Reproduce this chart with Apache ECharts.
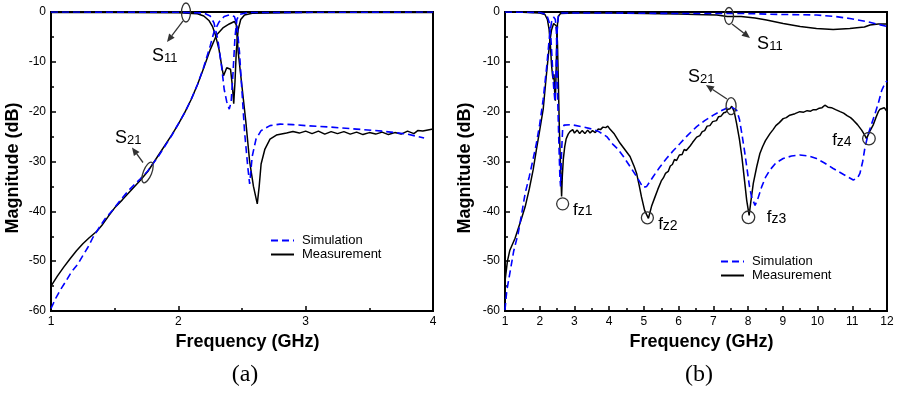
<!DOCTYPE html>
<html><head><meta charset="utf-8">
<script src="https://cdn.jsdelivr.net/npm/echarts@6/dist/echarts.min.js"></script>
<style>html,body{margin:0;padding:0;background:#fff}#c{width:899px;height:393px}</style>
</head><body><div id="c"></div>
<script>
// ---------- DATA (frequency GHz, magnitude dB) ----------
// Panel (a)
const aMeasS21 = [[1.00,-55.0],[1.05,-53.0],[1.10,-51.2],[1.15,-49.5],[1.20,-47.9],[1.25,-46.5],[1.30,-45.3],[1.36,-44.0],[1.40,-42.8],[1.45,-41.0],[1.50,-39.3],[1.56,-37.7],[1.62,-36.0],[1.70,-33.8],[1.76,-32.0],[1.85,-28.5],[1.95,-24.6],[2.00,-22.5],[2.05,-20.2],[2.10,-17.6],[2.15,-14.6],[2.20,-11.2],[2.25,-7.6],[2.30,-4.6],[2.35,-3.2],[2.40,-2.4],[2.44,-1.9],[2.455,-2.6],[2.47,-8.0],[2.50,-15.0],[2.53,-22.0],[2.56,-30.0],[2.59,-35.0],[2.62,-38.5],[2.635,-35.0],[2.65,-30.5],[2.68,-27.5],[2.72,-25.5],[2.77,-24.7],[2.85,-24.3],[2.90,-24.0],[2.95,-24.3],[3.00,-23.9],[3.05,-24.4],[3.10,-23.9],[3.15,-24.5],[3.20,-24.0],[3.25,-24.4],[3.30,-24.0],[3.35,-24.5],[3.40,-24.1],[3.45,-24.6],[3.50,-24.2],[3.55,-24.5],[3.60,-24.1],[3.65,-24.6],[3.70,-24.2],[3.75,-24.5],[3.80,-23.9],[3.85,-24.4],[3.88,-23.8],[3.92,-23.9],[3.96,-23.7],[4.00,-23.5]];
const aSimS21 = [[1.00,-59.5],[1.04,-57.3],[1.08,-55.5],[1.12,-53.9],[1.16,-52.2],[1.21,-50.6],[1.25,-48.9],[1.29,-47.2],[1.33,-45.2],[1.38,-43.2],[1.43,-41.3],[1.49,-39.6],[1.55,-37.6],[1.61,-35.8],[1.70,-33.5],[1.76,-31.9],[1.85,-28.7],[1.95,-24.7],[2.05,-20.2],[2.10,-17.6],[2.15,-14.6],[2.20,-11.0],[2.25,-6.8],[2.28,-4.0],[2.32,-2.0],[2.36,-0.9],[2.40,-0.6],[2.44,-0.9],[2.46,-2.5],[2.48,-8.0],[2.50,-16.0],[2.52,-24.0],[2.545,-31.0],[2.56,-34.5],[2.58,-29.0],[2.61,-25.5],[2.65,-23.8],[2.72,-22.8],[2.80,-22.5],[2.90,-22.6],[3.00,-22.8],[3.20,-23.1],[3.40,-23.5],[3.60,-23.9],[3.80,-24.5],[3.93,-25.3]];
const aMeasS11 = [[1.00,-0.1],[1.50,-0.1],[2.00,-0.15],[2.15,-0.35],[2.20,-0.8],[2.24,-1.7],[2.27,-3.0],[2.29,-4.5],[2.32,-7.6],[2.345,-11.5],[2.355,-12.8],[2.37,-12.4],[2.38,-11.2],[2.395,-10.8],[2.41,-11.5],[2.425,-15.0],[2.435,-18.4],[2.445,-14.0],[2.455,-8.0],[2.47,-3.5],[2.49,-1.5],[2.52,-0.6],[2.58,-0.25],[3.00,-0.1],[4.00,-0.1]];
const aSimS11 = [[1.00,0],[2.00,-0.05],[2.20,-0.2],[2.25,-0.8],[2.28,-2.2],[2.31,-5.5],[2.34,-11.0],[2.36,-15.5],[2.38,-18.0],[2.40,-19.5],[2.415,-18.0],[2.43,-12.0],[2.445,-5.0],[2.46,-1.5],[2.48,-0.5],[2.55,-0.1],[4.00,0]];
// Panel (b)
const bMeasS21 = [[1.00,-54.0],[1.07,-50.0],[1.14,-47.8],[1.29,-45.4],[1.45,-42.0],[1.58,-39.1],[1.70,-35.5],[1.81,-31.7],[1.90,-27.8],[2.00,-23.7],[2.10,-19.5],[2.18,-13.5],[2.25,-8.6],[2.30,-5.5],[2.34,-3.6],[2.40,-2.3],[2.44,-1.9],[2.48,-2.8],[2.51,-6.0],[2.54,-15.0],[2.56,-22.0],[2.58,-27.0],[2.61,-33.0],[2.63,-37.0],[2.65,-33.0],[2.68,-29.5],[2.72,-27.0],[2.76,-25.5],[2.82,-24.5],[2.87,-24.0],[2.95,-23.6],[3.00,-24.3],[3.08,-23.7],[3.15,-24.4],[3.22,-23.8],[3.30,-24.4],[3.38,-23.7],[3.45,-24.3],[3.52,-23.8],[3.60,-24.2],[3.68,-23.5],[3.75,-23.6],[3.82,-23.1],[3.90,-23.2],[3.96,-22.9],[4.02,-23.5],[4.15,-24.5],[4.31,-26.3],[4.45,-27.6],[4.60,-29.0],[4.72,-31.0],[4.79,-32.4],[4.87,-35.0],[4.93,-37.1],[5.02,-39.8],[5.13,-41.4],[5.22,-39.0],[5.32,-37.1],[5.40,-35.6],[5.45,-35.2],[5.50,-33.9],[5.56,-33.3],[5.62,-32.4],[5.70,-32.0],[5.76,-30.9],[5.82,-30.6],[5.88,-29.6],[5.94,-29.8],[6.02,-28.7],[6.10,-28.6],[6.16,-27.6],[6.22,-27.8],[6.33,-26.9],[6.40,-26.2],[6.45,-26.0],[6.52,-25.1],[6.61,-24.8],[6.68,-24.0],[6.75,-23.8],[6.82,-22.9],[6.90,-22.8],[6.98,-22.0],[7.09,-21.8],[7.15,-21.0],[7.22,-20.9],[7.30,-20.2],[7.36,-20.1],[7.42,-19.5],[7.48,-19.4],[7.53,-18.9],[7.60,-20.0],[7.67,-22.4],[7.75,-25.5],[7.82,-29.0],[7.90,-34.0],[7.96,-37.8],[8.03,-40.8],[8.08,-38.0],[8.15,-34.4],[8.25,-31.0],[8.34,-28.4],[8.42,-27.0],[8.50,-25.8],[8.63,-24.4],[8.72,-23.6],[8.80,-22.8],[8.90,-22.2],[9.01,-21.4],[9.10,-21.2],[9.20,-20.7],[9.35,-20.4],[9.49,-20.0],[9.60,-20.1],[9.70,-19.8],[9.80,-19.9],[9.88,-19.6],[9.97,-19.6],[10.05,-19.3],[10.13,-19.2],[10.21,-18.7],[10.30,-19.1],[10.40,-19.2],[10.52,-19.6],[10.65,-20.0],[10.75,-20.3],[10.85,-20.8],[10.95,-21.2],[11.03,-21.7],[11.15,-22.6],[11.27,-23.7],[11.35,-24.6],[11.41,-25.4],[11.50,-24.0],[11.60,-22.7],[11.68,-21.2],[11.75,-20.0],[11.80,-19.5],[11.85,-19.8],[11.92,-19.2],[12.00,-20.0]];
const bSimS21 = [[1.00,-59.8],[1.05,-56.0],[1.14,-52.4],[1.25,-48.0],[1.38,-44.4],[1.48,-40.5],[1.58,-36.4],[1.70,-33.0],[1.81,-29.5],[1.90,-26.5],[2.00,-22.5],[2.10,-17.5],[2.20,-11.0],[2.28,-5.0],[2.34,-2.0],[2.40,-1.0],[2.45,-1.5],[2.48,-4.0],[2.50,-10.0],[2.52,-18.0],[2.55,-26.0],[2.58,-33.0],[2.60,-35.0],[2.63,-28.0],[2.66,-23.5],[2.70,-22.7],[2.90,-22.6],[3.20,-23.0],[3.45,-23.4],[3.70,-24.0],[3.93,-25.0],[4.10,-26.5],[4.25,-27.5],[4.41,-29.0],[4.60,-31.0],[4.79,-33.0],[4.93,-34.7],[4.98,-35.2],[5.08,-35.0],[5.27,-33.0],[5.45,-31.2],[5.65,-29.4],[5.85,-27.8],[6.04,-26.4],[6.25,-24.8],[6.52,-23.0],[6.75,-21.8],[7.00,-20.7],[7.20,-19.9],[7.38,-19.3],[7.55,-19.2],[7.67,-19.7],[7.75,-21.5],[7.82,-24.4],[7.90,-28.0],[7.96,-31.0],[8.04,-35.0],[8.10,-37.1],[8.20,-38.8],[8.28,-37.5],[8.39,-35.1],[8.50,-33.2],[8.63,-31.7],[8.80,-30.3],[9.01,-29.4],[9.25,-28.9],[9.49,-28.7],[9.75,-28.9],[9.97,-29.4],[10.20,-30.3],[10.45,-31.4],[10.75,-32.6],[11.03,-33.7],[11.15,-33.3],[11.22,-32.4],[11.30,-30.0],[11.37,-27.0],[11.46,-24.5],[11.56,-22.4],[11.66,-20.3],[11.75,-18.3],[11.85,-15.7],[11.93,-14.5],[12.00,-13.8]];
const bMeasS11 = [[1.00,0],[1.50,-0.05],[2.00,-0.2],[2.15,-0.5],[2.22,-1.5],[2.27,-3.5],[2.31,-7.0],[2.34,-10.6],[2.37,-12.8],[2.39,-13.5],[2.41,-12.5],[2.43,-16.0],[2.45,-17.8],[2.47,-12.5],[2.49,-6.0],[2.51,-2.5],[2.54,-0.8],[2.60,-0.3],[3.00,-0.2],[4.00,-0.2],[5.00,-0.3],[6.00,-0.4],[6.50,-0.5],[7.10,-0.6],[7.40,-0.9],[7.80,-0.9],[8.20,-1.2],[8.53,-1.6],[9.01,-2.3],[9.50,-2.9],[9.97,-3.3],[10.45,-3.5],[10.93,-3.3],[11.20,-3.1],[11.35,-3.0],[11.51,-2.6],[11.75,-2.4],[12.00,-2.4]];
const bSimS11 = [[1.00,0],[2.00,-0.1],[2.20,-0.5],[2.27,-2.0],[2.32,-5.0],[2.36,-10.0],[2.40,-15.0],[2.44,-18.0],[2.47,-12.0],[2.50,-4.0],[2.53,-1.0],[2.60,-0.2],[4.00,-0.2],[6.00,-0.3],[7.86,-0.3],[9.00,-0.5],[9.97,-0.6],[10.50,-0.9],[10.93,-1.3],[11.41,-1.9],[11.70,-2.4],[12.00,-2.9]];

const xRanges = [[1, 4], [1, 12]];
const yRange = [-60, 0];
const seriesNames = ['Simulation', 'Measurement'];
const panelLabels = ['(a)', '(b)'];
const xTitle = 'Frequency (GHz)';
const yTitle = 'Magnitude (dB)';

// annotations (data coordinates)
const annEllipses = [
  {g:0, at:[2.06,-0.1], rx:4.5, ry:9.5, rot:0},
  {g:0, at:[1.758,-32.2], rx:4.2, ry:11, rot:-0.38},
  {g:1, at:[7.45,-0.8], rx:4.5, ry:8.5, rot:0},
  {g:1, at:[7.51,-18.9], rx:5, ry:8.5, rot:0},
  {g:1, at:[2.66,-38.5], rx:6, ry:6, rot:0},
  {g:1, at:[5.10,-41.3], rx:6, ry:6, rot:0},
  {g:1, at:[8.01,-41.2], rx:6.3, ry:6.3, rot:0},
  {g:1, at:[11.48,-25.4], rx:6.3, ry:6.3, rot:0}
];
const annArrows = [
  {g:0, from:[2.037,-1.8], to:[1.911,-6.0]},
  {g:0, from:[1.7225,-30.2], to:[1.636,-27.2]},
  {g:1, from:[7.536,-2.41], to:[8.054,-5.22]},
  {g:1, from:[7.392,-17.47], to:[6.787,-14.66]}
];
const annTexts = [
  {g:0, at:[1.793,-10.1], main:'S', sub:'11', big:18, small:13},
  {g:0, at:[1.503,-26.4], main:'S', sub:'21', big:18, small:13},
  {g:1, at:[8.26,-7.6], main:'S', sub:'11', big:18, small:13},
  {g:1, at:[6.27,-14.3], main:'S', sub:'21', big:18, small:13},
  {g:1, at:[2.96,-40.8], main:'f', sub:'z1', big:17, small:14},
  {g:1, at:[5.41,-43.8], main:'f', sub:'z2', big:17, small:14},
  {g:1, at:[8.54,-42.4], main:'f', sub:'z3', big:17, small:14},
  {g:1, at:[10.42,-26.9], main:'f', sub:'z4', big:17, small:14}
];

// ---------- CHART ----------
const FONT = "'Liberation Sans', Arial, sans-serif";
const chart = echarts.init(document.getElementById('c'), null, {renderer:'canvas', width:899, height:393});

const grids = [
  {left:51, top:12, width:382, height:299, show:true, borderColor:'#000', borderWidth:2, backgroundColor:'transparent'},
  {left:505, top:12, width:382, height:299, show:true, borderColor:'#000', borderWidth:2, backgroundColor:'transparent'}
];
const yNameGap = [29, 31];
function xAx(i){
  return {type:'value', gridIndex:i, min:xRanges[i][0], max:xRanges[i][1], interval:1,
    name:xTitle, nameLocation:'middle', nameGap:20,
    nameTextStyle:{fontFamily:FONT, fontWeight:'bold', fontSize:18, color:'#000', padding:[0,0,0,11]},
    axisLine:{show:true, onZero:false, lineStyle:{color:'#000', width:2}},
    axisTick:{show:true, inside:true, length:5, lineStyle:{color:'#000', width:1.5}},
    minorTick:{show:true, splitNumber:2, length:3, lineStyle:{color:'#000', width:1.5}},
    splitLine:{show:false},
    axisLabel:{margin:5, color:'#000', fontSize:12, fontFamily:FONT}};
}
function yAx(i){
  return {type:'value', gridIndex:i, min:yRange[0], max:yRange[1], interval:10,
    name:yTitle, nameLocation:'middle', nameGap:yNameGap[i], nameRotate:90,
    nameTextStyle:{fontFamily:FONT, fontWeight:'bold', fontSize:18, color:'#000', padding:[0,13,0,0]},
    axisLine:{show:true, onZero:false, lineStyle:{color:'#000', width:2}},
    axisTick:{show:true, inside:true, length:5, lineStyle:{color:'#000', width:1.5}},
    minorTick:{show:true, splitNumber:2, length:3, lineStyle:{color:'#000', width:1.5}},
    splitLine:{show:false},
    axisLabel:{margin:5, color:'#000', fontSize:12, fontFamily:FONT}};
}
function meas(i, data){
  return {type:'line', name:seriesNames[1], xAxisIndex:i, yAxisIndex:i, data:data, symbol:'none',
    showSymbol:false, lineStyle:{color:'#000', width:1.5}, itemStyle:{color:'#000'}, z:2, animation:false};
}
function sim(i, data){
  return {type:'line', name:seriesNames[0], xAxisIndex:i, yAxisIndex:i, data:data, symbol:'none',
    showSymbol:false, lineStyle:{color:'#0000ff', width:1.6, type:[7,4]}, itemStyle:{color:'#0000ff'}, z:3, animation:false};
}
function legend(left, top){
  return {orient:'vertical', left:left, top:top, itemWidth:23, itemHeight:14, itemGap:1,
    selectedMode:false, data:seriesNames, itemStyle:{opacity:0},
    textStyle:{fontFamily:FONT, fontSize:13, color:'#000', padding:[0,0,0,3]}};
}

chart.setOption({
  animation:false,
  backgroundColor:'#fff',
  grid:grids,
  xAxis:[xAx(0), xAx(1)],
  yAxis:[yAx(0), yAx(1)],
  legend:[legend(265, 229), legend(715, 250)],
  series:[meas(0,aMeasS21), meas(0,aMeasS11), sim(0,aSimS21), sim(0,aSimS11),
          meas(1,bMeasS21), meas(1,bMeasS11), sim(1,bSimS21), sim(1,bSimS11)]
});

// ---------- annotations positioned through the axes ----------
function px(g, p){ return chart.convertToPixel({gridIndex:g}, p); }
const gfx = [];
const ANN = '#333';
annEllipses.forEach(e => {
  const c = px(e.g, e.at);
  gfx.push({type:'ellipse', x:c[0], y:c[1], rotation:e.rot, shape:{cx:0, cy:0, rx:e.rx, ry:e.ry},
    style:{fill:'none', stroke:ANN, lineWidth:1.3}, z:10});
});
annArrows.forEach(a => {
  const s = px(a.g, a.from), t = px(a.g, a.to);
  const ang = Math.atan2(t[1]-s[1], t[0]-s[0]);
  const L = 8, W = 3.5;
  const bx = t[0] - L*Math.cos(ang), by = t[1] - L*Math.sin(ang);
  gfx.push({type:'line', shape:{x1:s[0], y1:s[1], x2:bx, y2:by}, style:{stroke:ANN, lineWidth:1.3}, z:10});
  gfx.push({type:'polygon', shape:{points:[[t[0],t[1]],[bx - W*Math.sin(ang), by + W*Math.cos(ang)],[bx + W*Math.sin(ang), by - W*Math.cos(ang)]]},
    style:{fill:ANN}, z:10});
});
annTexts.forEach(t => {
  const c = px(t.g, t.at);
  gfx.push({type:'text', x:c[0], y:c[1]+3, z:10,
    style:{text:'{a|'+t.main+'}{b|'+t.sub+'}', align:'left', verticalAlign:'bottom',
      rich:{a:{fontSize:t.big, fontFamily:FONT, fill:'#000', verticalAlign:'bottom'},
            b:{fontSize:t.small, fontFamily:FONT, fill:'#000', verticalAlign:'bottom'}}}});
});
// panel labels under each grid
[0,1].forEach(i => {
  const c = px(i, [(xRanges[i][0]+xRanges[i][1])/2, yRange[0]]);
  gfx.push({type:'text', x:c[0]+3, y:375, style:{text:panelLabels[i], align:'center', verticalAlign:'middle',
    fontFamily:"'Liberation Serif', 'Times New Roman', serif", fontSize:24, fill:'#000'}});
});
chart.setOption({graphic:gfx});
</script></body></html>
